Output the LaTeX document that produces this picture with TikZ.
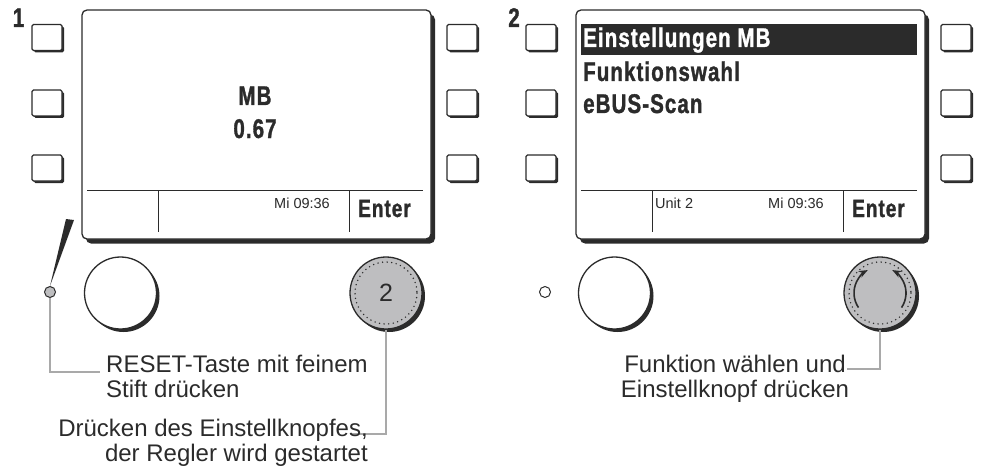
\documentclass[tikz,border=0pt]{standalone}
\usepackage{fontspec}
\setmainfont{Liberation Sans}
\newfontfamily\lcdfont[FakeStretch=0.76,FakeBold=1.2,LetterSpace=4]{Liberation Sans Bold}
\usetikzlibrary{arrows.meta,shadows}
\definecolor{ink}{HTML}{2B2B2B}
\definecolor{knobgray}{HTML}{BEBEC0}
\definecolor{leadgray}{HTML}{A9A9A9}
\tikzset{
 sidekey/.style={draw=ink,fill=white,line width=1.2pt,rounded corners=1.5pt,minimum width=30pt,minimum height=26pt,inner sep=0,drop shadow={shadow xshift=2pt,shadow yshift=-2pt,fill=ink,opacity=1}},
 lcd/.style={draw=ink,fill=white,line width=1.3pt,rounded corners=5pt,minimum width=349pt,minimum height=229pt,inner sep=0,drop shadow={shadow xshift=4pt,shadow yshift=-4.5pt,fill=ink,opacity=1}},
 knob/.style={circle,draw=ink,fill=white,line width=1.3pt,minimum size=72pt,inner sep=0,font=\fontsize{25}{25}\selectfont,text=ink,drop shadow={shadow xshift=3pt,shadow yshift=-3pt,fill=ink,opacity=1}},
 dial/.style={knob,fill=knobgray},
 ring/.style={draw=ink,line width=1.6pt,dash pattern=on 0pt off 4.6pt,line cap=round},
 resetdot/.style={circle,draw=ink,line width=1pt,minimum size=11pt,inner sep=0},
 leader/.style={draw=leadgray,line width=1.2pt},
 lcdtext/.style={font=\lcdfont\fontsize{27}{32}\selectfont,text=ink,inner sep=0},
 smalltext/.style={font=\fontsize{14.5}{16}\selectfont,text=ink,inner sep=0},
 note/.style={font=\fontsize{24}{25}\selectfont,text=ink,inner sep=0},
 bar/.style={draw=ink,line width=0.6pt},
 turn/.style={draw=ink,line width=1.6pt,-{Stealth[length=9pt,width=7pt]}}
}
\begin{document}
\begin{tikzpicture}[x=1pt,y=-1pt]
\path[use as bounding box] (0,0) rectangle (984,468);
% panel 1
\node[lcdtext,anchor=base] (no1) at (18.5,27) {1};
\foreach \y [count=\i] in {37.5,103,168}{
 \node[sidekey] (kl\i) at (47,\y) {};
 \node[sidekey] (kr\i) at (462,\y) {};
}
\node[lcd] (scr1) at (256.5,124.5) {};
\draw[bar] (87,190) -- (423,190);
\draw[bar] (158,190) -- (158,232);
\draw[bar] (349,190) -- (349,232);
\node[lcdtext,anchor=base] (mb1) at (255,105) {MB};
\node[lcdtext,anchor=base] (val1) at (255,138) {0.67};
\node[smalltext,anchor=base] (time1) at (302,208) {Mi 09:36};
\node[lcdtext,font=\lcdfont\fontsize{25}{25}\selectfont,anchor=base] (ent1) at (384.5,217) {Enter};
\node[resetdot,fill=knobgray] (rst1) at (50,292) {};
\fill[ink] (rst1.north) -- (66,219) -- (74,220) -- cycle;
\node[knob] (kn1) at (120.5,293) {};
\node[dial] (dl1) at (386,293) {2};
\draw[ring] (dl1.center) circle[radius=31];
\coordinate (ld1) at (100,372);
\draw[leader] (rst1.south) |- (ld1);
\node[note,anchor=base west,align=left] (txt1) at (106,397) {RESET-Taste mit feinem\\Stift drücken};
\coordinate (ld2) at (350,434);
\draw[leader] (dl1.south) |- (ld2);
\node[note,anchor=base east,align=right] (txt2) at (368,461) {Drücken des Einstellknopfes,\\der Regler wird gestartet};
% panel 2
\node[lcdtext,anchor=base] (no2) at (514,27) {2};
\foreach \y [count=\i] in {37.5,103,168}{
 \node[sidekey] (ml\i) at (541,\y) {};
 \node[sidekey] (mr\i) at (956,\y) {};
}
\node[lcd] (scr2) at (750.5,124.5) {};
\fill[ink] (581,24) rectangle (917,55);
\node[lcdtext,text=white,anchor=base west] (men1) at (583,47) {Einstellungen MB};
\node[lcdtext,anchor=base west] (men2) at (583,81) {Funktionswahl};
\node[lcdtext,anchor=base west] (men3) at (583,113) {eBUS-Scan};
\draw[bar] (581,190) -- (917,190);
\draw[bar] (652,190) -- (652,232);
\draw[bar] (843,190) -- (843,232);
\node[smalltext,anchor=base west] (unit2) at (655,208) {Unit 2};
\node[smalltext,anchor=base] (time2) at (796,208) {Mi 09:36};
\node[lcdtext,font=\lcdfont\fontsize{25}{25}\selectfont,anchor=base] (ent2) at (878.5,217) {Enter};
\node[resetdot,fill=white] (rst2) at (545,292) {};
\node[knob] (kn2) at (614.5,293) {};
\node[dial] (dl2) at (880,293) {};
\draw[ring] (dl2.center) circle[radius=31];
\draw[turn] ([shift={(146:26)}]dl2.center) arc[start angle=146,end angle=242,radius=26];
\draw[turn] ([shift={(34:26)}]dl2.center) arc[start angle=34,end angle=-62,radius=26];
\coordinate (ld3) at (847,369);
\draw[leader] (dl2.south) |- (ld3);
\node[note,anchor=base,align=center] (txt3) at (735,397) {Funktion wählen und\\Einstellknopf drücken};
\end{tikzpicture}
\end{document}
